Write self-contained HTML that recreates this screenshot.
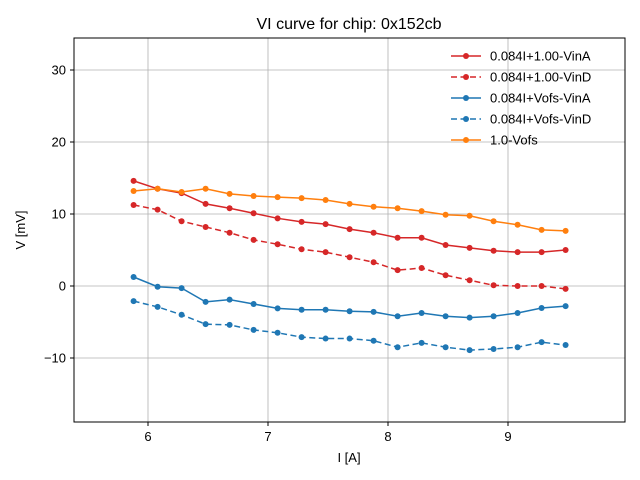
<!DOCTYPE html>
<html><head><meta charset="utf-8"><style>
body{margin:0;background:#fff;}
svg{display:block;font-family:"Liberation Sans","DejaVu Sans",sans-serif;}
</style></head><body>
<svg id="chart" width="640" height="480">
<text x="349" y="29" font-size="16" text-anchor="middle">VI curve for chip: 0x152cb</text>
<g id="grid"></g>
<g id="series"></g>
<rect x="74" y="38" width="551" height="384" fill="none" stroke="#000" stroke-width="1"/>
<g id="ticks"></g>
<text x="349" y="462" font-size="13" text-anchor="middle">I [A]</text>
<text x="25" y="230" font-size="13" text-anchor="middle" transform="rotate(-90 25 230)">V [mV]</text>
<g id="legend"></g>
</svg>
<script>
const xValues=[5.88,6.08,6.28,6.48,6.68,6.88,7.08,7.28,7.48,7.68,7.88,8.08,8.28,8.48,8.68,8.88,9.08,9.28,9.48];
const seriesNames=["0.084I+1.00-VinA","0.084I+1.00-VinD","0.084I+Vofs-VinA","0.084I+Vofs-VinD","1.0-Vofs"];
const redSolid=[14.6,13.5,12.9,11.4,10.8,10.1,9.4,8.9,8.6,7.9,7.4,6.7,6.7,5.7,5.3,4.9,4.7,4.7,5.0];
const redDashed=[11.25,10.6,9.0,8.2,7.4,6.4,5.8,5.1,4.7,4.0,3.3,2.2,2.5,1.5,0.8,0.1,0,0,-0.4];
const blueSolid=[1.25,-0.1,-0.3,-2.2,-1.9,-2.5,-3.1,-3.3,-3.3,-3.5,-3.6,-4.2,-3.75,-4.2,-4.4,-4.2,-3.75,-3.05,-2.8];
const blueDashed=[-2.1,-2.9,-4.0,-5.3,-5.4,-6.1,-6.5,-7.1,-7.3,-7.3,-7.6,-8.5,-7.9,-8.5,-8.9,-8.75,-8.5,-7.8,-8.2];
const orange=[13.2,13.5,13.05,13.5,12.8,12.5,12.35,12.2,11.95,11.4,11.0,10.8,10.4,9.9,9.75,9.0,8.5,7.8,7.65];
const xTicks=[6,7,8,9];
const yTicks=[-10,0,10,20,30];
const NS="http://www.w3.org/2000/svg";
const X=v=>148+(v-6)*120;
const Y=v=>286-v*7.2;
function mk(tag,attrs,parent){const e=document.createElementNS(NS,tag);for(const k in attrs)e.setAttribute(k,attrs[k]);parent.appendChild(e);return e;}
const grid=document.getElementById('grid'),ticks=document.getElementById('ticks');
xTicks.forEach(t=>{
 const l=mk('line',{x1:X(t),x2:X(t),y1:38,y2:422,stroke:'#b0b0b0','stroke-width':0.8},grid);
 
 
 const tk=mk('line',{x1:X(t),x2:X(t),y1:422,y2:426,stroke:'#000'},ticks);
 
 
 const tx=mk('text',{x:X(t),y:441,'font-size':13,'text-anchor':'middle'},ticks);tx.textContent=t;
 
 
});
yTicks.forEach(t=>{
 const l=mk('line',{x1:74,x2:625,y1:Y(t),y2:Y(t),stroke:'#b0b0b0','stroke-width':0.8},grid);
 
 
 const tk=mk('line',{x1:70,x2:74,y1:Y(t),y2:Y(t),stroke:'#000'},ticks);
 
 
 const tx=mk('text',{x:66,y:Y(t)+4.5,'font-size':13,'text-anchor':'end'},ticks);tx.textContent=(t<0?'\u2212'+(-t):t);
 
 
});
const defs=[[redSolid,'#d62728',''],[redDashed,'#d62728','6,3.5'],[blueSolid,'#1f77b4',''],[blueDashed,'#1f77b4','6,3.5'],[orange,'#ff7f0e','']];
const sg=document.getElementById('series'),lg=document.getElementById('legend');
defs.forEach((d,i)=>{
 const [vals,c,dash]=d;
 const g=mk('g',{},sg);
 
 
 const pl=mk('polyline',{points:vals.map((v,j)=>X(xValues[j])+','+Y(v)).join(' '),fill:'none',stroke:c,'stroke-width':1.5,'stroke-dasharray':dash},g);
 
 
 vals.forEach((v,j)=>{const p=mk('circle',{cx:X(xValues[j]),cy:Y(v),r:3,fill:c},g);
  
  });
 const ly=56+i*21;
 const e=mk('g',{},lg);
 
 
 mk('line',{x1:451,x2:481,y1:ly,y2:ly,stroke:c,'stroke-width':1.5,'stroke-dasharray':dash},e);
 mk('circle',{cx:466,cy:ly,r:3,fill:c},e);
 const t=mk('text',{x:490,y:ly+4.5,'font-size':13},e);t.textContent=seriesNames[i];
});
</script>
</body></html>
